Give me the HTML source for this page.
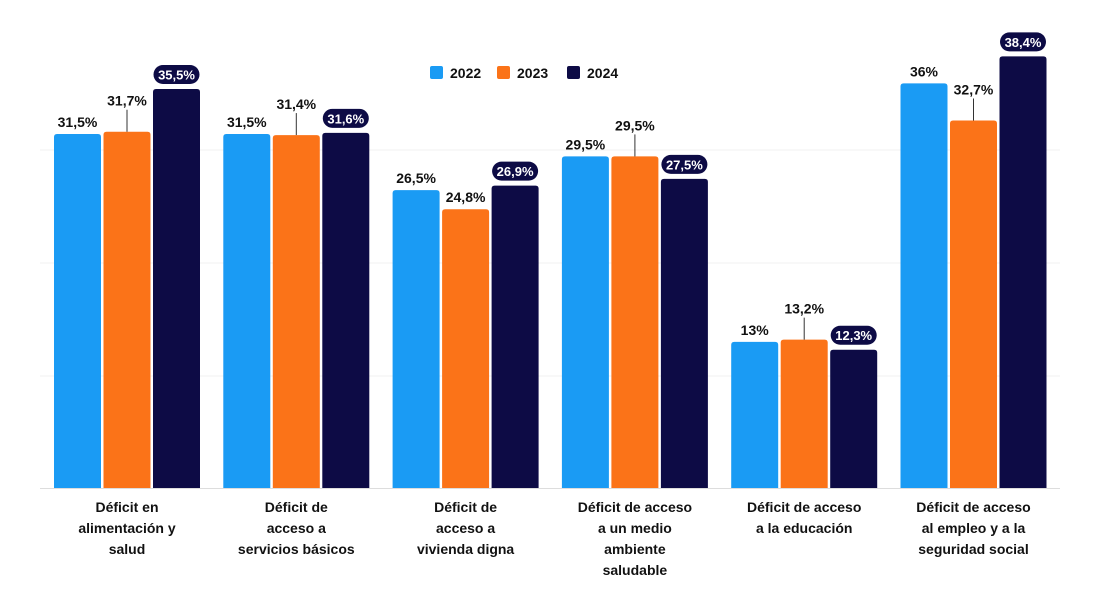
<!DOCTYPE html>
<html><head><meta charset="utf-8">
<style>
body{margin:0;background:#fff;}
svg{display:block;font-family:"Liberation Sans","DejaVu Sans",sans-serif;}
</style></head>
<body>
<svg id="chart" width="1105" height="604" viewBox="0 0 1105 604" xmlns="http://www.w3.org/2000/svg"></svg>
<script>
const categories = [
  ["Déficit en","alimentación y","salud"],
  ["Déficit de","acceso a","servicios básicos"],
  ["Déficit de","acceso a","vivienda digna"],
  ["Déficit de acceso","a un medio","ambiente","saludable"],
  ["Déficit de acceso","a la educación"],
  ["Déficit de acceso","al empleo y a la","seguridad social"]
];
const series2022 = [31.5, 31.5, 26.5, 29.5, 13, 36];
const series2023 = [31.7, 31.4, 24.8, 29.5, 13.2, 32.7];
const series2024 = [35.5, 31.6, 26.9, 27.5, 12.3, 38.4];
const labels2022 = ["31,5%","31,5%","26,5%","29,5%","13%","36%"];
const labels2023 = ["31,7%","31,4%","24,8%","29,5%","13,2%","32,7%"];
const labels2024 = ["35,5%","31,6%","26,9%","27,5%","12,3%","38,4%"];
const leader2023 = [1,1,0,1,1,1];
const years = ["2022","2023","2024"];

const NS="http://www.w3.org/2000/svg";
const svg=document.getElementById('chart');
const colors=["#1a9bf4","#fb7318","#0d0b45"];
const baseY=488, pxPer=11.24;
const yScale=v=>baseY-v*pxPer;
const groupX=i=>54+i*169.3;
const barW=47, barStep=49.5;
function mk(tag,attrs){const e=document.createElementNS(NS,tag);for(const k in attrs)e.setAttribute(k,attrs[k]);svg.appendChild(e);return e;}

// gridlines
[150,263,376].forEach(y=>{const g=mk('line',{x1:40,x2:1060,y1:y,y2:y,stroke:'#f0f0f0','stroke-width':1});

});
const bl=mk('line',{x1:40,x2:1060,y1:baseY+0.5,y2:baseY+0.5,stroke:'#ddd','stroke-width':1});



// legend
const legX=[430,497,567];
years.forEach((y,i)=>{
  const r=mk('rect',{x:legX[i],y:66,width:13,height:13,rx:2,fill:colors[i]});
  
  
  const t=mk('text',{x:legX[i]+20,y:78,'font-size':14,'font-weight':'bold',fill:'#111'});
  t.textContent=y;
  
  
});

const all=[series2022,series2023,series2024];
categories.forEach((cat,i)=>{
  const gx=groupX(i);
  all.forEach((s,j)=>{
    const x=gx+j*barStep, top=yScale(s[i]);
    const b=mk('path',{d:`M${x},${baseY} V${top+3} Q${x},${top} ${x+3},${top} H${x+barW-3} Q${x+barW},${top} ${x+barW},${top+3} V${baseY} Z`,fill:colors[j]});
    
    
    const cx=x+barW/2;
    if(j===0){
      const t=mk('text',{x:cx,y:top-7,'text-anchor':'middle','font-size':14,'font-weight':'bold',fill:'#111'});
      t.textContent=labels2022[i];
      
      
    } else if(j===1){
      let ty=top-7;
      if(leader2023[i]){
        ty=top-26;
        const l=mk('line',{x1:cx,x2:cx,y1:ty+4,y2:top,stroke:'#333','stroke-width':1});
        
        
      }
      const t=mk('text',{x:cx,y:ty,'text-anchor':'middle','font-size':14,'font-weight':'bold',fill:'#111'});
      t.textContent=labels2023[i];
      
      
    } else {
      const p=mk('rect',{x:cx-23,y:top-24,width:46,height:19,rx:9.5,fill:'#0d0b45'});
      
      
      const t=mk('text',{x:cx,y:top-9.5,'text-anchor':'middle','font-size':13,'font-weight':'bold',fill:'#fff'});
      t.textContent=labels2024[i];
      
      
    }
  });
  const cx=gx+barStep+barW/2;
  cat.forEach((line,k)=>{
    const t=mk('text',{x:cx,y:512+k*21,'text-anchor':'middle','font-size':14,'font-weight':'bold',fill:'#111'});
    t.textContent=line;
    
    
  });
});
</script>
</body></html>
